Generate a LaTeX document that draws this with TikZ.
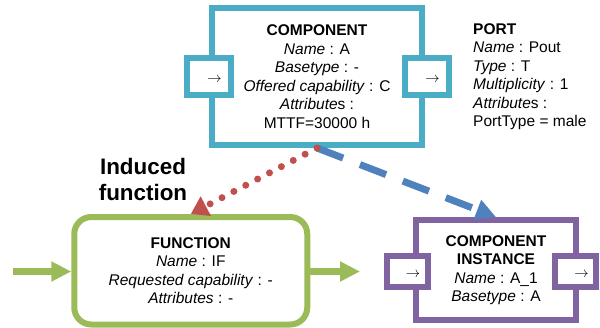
\documentclass[tikz,border=0pt]{standalone}
\usepackage{fontspec}
\setmainfont{Liberation Sans}
\usetikzlibrary{arrows.meta}
\definecolor{compblue}{HTML}{4BACC6}
\definecolor{linkblue}{HTML}{4F81BD}
\definecolor{linkred}{HTML}{C0504D}
\definecolor{funcgreen}{HTML}{9BBB59}
\definecolor{instpurple}{HTML}{8064A2}
\begin{document}
\begin{tikzpicture}[x=1pt,y=-1pt,
   txt/.style={font=\fontsize{15.5}{18.5}\selectfont, align=center, inner sep=0pt},
   compbox/.style={txt, draw=compblue, line width=6pt, minimum width=210pt, minimum height=137pt},
   funcbox/.style={txt, draw=funcgreen, line width=6pt, rounded corners=17pt, minimum width=233pt, minimum height=107.5pt},
   instbox/.style={txt, draw=instpurple, line width=6pt, minimum width=160pt, minimum height=100pt},
   portbox/.style={draw=#1, fill=white, line width=6pt, inner sep=0pt,
      label={[inner sep=0pt, font=\fontsize{15.5}{15.5}\selectfont, xshift=6pt, yshift=-3pt]center:$\rightarrow$}},
   flowarrow/.style={draw=funcgreen, line width=7pt, -{Triangle[length=20pt,width=19pt]}},
   dashlink/.style={draw=linkblue, line width=7pt, dash pattern=on 28pt off 18pt, -{Triangle[length=20pt,width=20pt]}},
   dotlink/.style={draw=linkred, line width=7pt, line cap=round, dash pattern=on 0pt off 13.4pt, -{Triangle[length=17pt,width=21pt]}}
]
   \useasboundingbox (0,0) rectangle (600,327);

   \node[compbox] (comp) at (317,76.5) {\textbf{COMPONENT}\\ \textit{Name} : A\\ \textit{Basetype} : -\\
      \textit{Offered capability} : C\\ \textit{Attribute}s :\\ MTTF=30000 h};
   \node[portbox=compblue, minimum width=44pt, minimum height=37pt] (cin) at (208.5,76.5) {};
   \node[portbox=compblue, minimum width=44pt, minimum height=37pt] (cout) at (426.5,76.5) {};
   \node[txt, align=left, anchor=north west] (port) at (473,23) {\textbf{PORT}\\ \textit{Name} : Pout\\
      \textit{Type} : T\\ \textit{Multiplicity} : 1\\ \textit{Attribute}s :\\ PortType = male};

   \node[funcbox] (func) at (190.75,270.75) {\textbf{FUNCTION}\\ \textit{Name} : IF\\
      \textit{Requested capability} : -\\ \textit{Attributes} : -};

   \node[instbox] (inst) at (496,270) {\textbf{COMPONENT}\\ \textbf{INSTANCE}\\ \textit{Name} : A\_1\\ \textit{Basetype} : A};
   \node[portbox=instpurple, minimum width=41pt, minimum height=31pt] (iin) at (407,271.5) {};
   \node[portbox=instpurple, minimum width=41pt, minimum height=31pt] (iout) at (575.5,271.5) {};

   \node[font=\bfseries\fontsize{22.4}{25.7}\selectfont, align=center, inner sep=0pt, anchor=north] (induced) at (143,158) {Induced\\ function};

   \coordinate (fin) at (13,271.5);
   \coordinate (fout) at (360,271.5);
   \draw[flowarrow] (fin) -- (fin -| func.west);
   \draw[flowarrow] (func.east |- fout) -- (fout);

   \draw[dashlink] (comp.south) -- (inst.north);
   \draw[dotlink] (comp.south) -- (func.north);

\end{tikzpicture}
\end{document}
